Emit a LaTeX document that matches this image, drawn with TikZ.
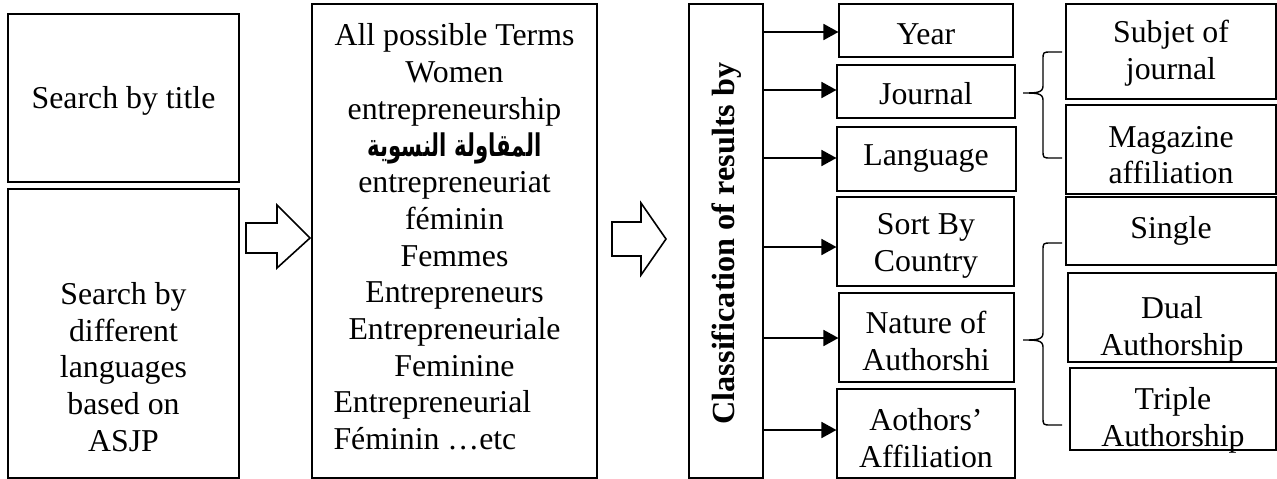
\documentclass[tikz,border=0pt]{standalone}
\usepackage{fontspec}
\setmainfont{Liberation Serif}
\newfontfamily\arabicfont[Script=Arabic]{DejaVu Sans}
\TeXXeTstate=1
\usetikzlibrary{arrows.meta}
\begin{document}
\begin{tikzpicture}[x=1pt,y=-1pt,
 box/.style={draw, line width=1.1pt, inner sep=0pt},
 txt/.style={font=\fontsize{31.8}{36.7}\selectfont, align=center, inner sep=0pt},
 arr/.style={line width=1.8pt, -{Triangle[length=15pt,width=16pt]}},
 hollow/.style={draw, line width=1.6pt, line join=miter},
 bracestyle/.style={line width=1.4pt}]
\useasboundingbox (0,0) rectangle (1277,479);
% left column
\node[box, minimum width=231pt, minimum height=168pt] (title) at (123.5,98) {};
\node[txt] (titletxt) at (123.5,101) {Search by title};
\node[box, minimum width=231pt, minimum height=289pt] (lang) at (123.5,333.5) {};
\node[txt] (langtxt) at (123.5,367) {Search by\\different\\languages\\based on\\ASJP};
% hollow arrow 1
\draw[hollow] (246,223) -- (277,223) -- (277,205) -- (310,238) -- (277,268) -- (277,253) -- (246,253) -- cycle;
% middle box
\node[box, minimum width=285pt, minimum height=474pt] (terms) at (454.5,241) {};
\node[txt] (termstxt) at (454.5,237) {All possible Terms\\Women\\entrepreneurship\\{\arabicfont\bfseries\fontsize{25}{36.7}\selectfont\scalebox{0.85}[1.25]{\beginR المقاولة النسوية\endR}}\\entrepreneuriat\\féminin\\Femmes\\Entrepreneurs\\Entrepreneuriale\\Feminine\\\makebox[242pt][l]{Entrepreneurial}\\\makebox[242pt][l]{Féminin …etc}};
% hollow arrow 2
\draw[hollow] (612,222) -- (641,222) -- (641,203) -- (666,239) -- (641,275) -- (641,256) -- (612,256) -- cycle;
% classification box
\node[box, minimum width=74pt, minimum height=474pt] (cls) at (726,241) {};
\node[txt, font=\fontsize{32.2}{36.7}\selectfont\bfseries, rotate=90] (clstxt) at (727,243.5) {Classification of results by};
% category boxes
\node[box, minimum width=174pt, minimum height=53pt] (year) at (926,30.5) {};
\node[txt] at (926,34) {Year};
\node[box, minimum width=178pt, minimum height=53pt] (journal) at (926,91.5) {};
\node[txt] at (926,94) {Journal};
\node[box, minimum width=179pt, minimum height=64pt] (language) at (926.5,159) {};
\node[txt] at (926,159) {Language};
\node[box, minimum width=177pt, minimum height=89pt] (country) at (925.5,241.5) {};
\node[txt] at (926,246) {Sort By\\Country};
\node[box, minimum width=175pt, minimum height=89pt] (nature) at (926.5,337.5) {};
\node[txt] at (926,341) {Nature of\\Authorshi};
\node[box, minimum width=178pt, minimum height=89pt] (affil) at (926,433.5) {};
\node[txt] at (926,438) {Aothors’\\Affiliation};
% arrows
\coordinate (a1) at (763,32);
\coordinate (a2) at (763,90);
\coordinate (a3) at (763,158);
\coordinate (a4) at (763,247);
\coordinate (a5) at (763,338);
\coordinate (a6) at (763,430);
\draw[arr] (a1) -- (a1 -| year.west);
\draw[arr] (a2) -- (a2 -| journal.west);
\draw[arr] (a3) -- (a3 -| language.west);
\draw[arr] (a4) -- (a4 -| country.west);
\draw[arr] (a5) -- (a5 -| nature.west);
\draw[arr] (a6) -- (a6 -| affil.west);
% right boxes
\node[box, minimum width=210pt, minimum height=95pt] (subj) at (1171,51.5) {};
\node[txt] at (1171,53) {Subjet of\\journal};
\node[box, minimum width=210pt, minimum height=89pt] (mag) at (1171,149.5) {};
\node[txt] at (1171,155) {Magazine\\affiliation};
\node[box, minimum width=210pt, minimum height=68pt] (single) at (1171,231) {};
\node[txt] at (1171,231) {Single};
\node[box, minimum width=208pt, minimum height=89pt] (dual) at (1172,317.5) {};
\node[txt] at (1172,329) {Dual\\Authorship};
\node[box, minimum width=206pt, minimum height=82pt] (triple) at (1173,409) {};
\node[txt] at (1173,420) {Triple\\Authorship};
% braces
\draw[bracestyle] (1062,52) -- (1051,52) .. controls (1043,52) .. (1043,60) -- (1043,86)
  .. controls (1043,93) and (1036,93) .. (1023,93)
  .. controls (1036,93) and (1043,93) .. (1043,100) -- (1043,150)
  .. controls (1043,158) .. (1051,158) -- (1062,158);
\draw[bracestyle] (1062,243) -- (1051,243) .. controls (1043,243) .. (1043,251) -- (1043,333)
  .. controls (1043,340) and (1036,340) .. (1023,340)
  .. controls (1036,340) and (1043,340) .. (1043,347) -- (1043,417)
  .. controls (1043,425) .. (1051,425) -- (1062,425);
\end{tikzpicture}
\end{document}
